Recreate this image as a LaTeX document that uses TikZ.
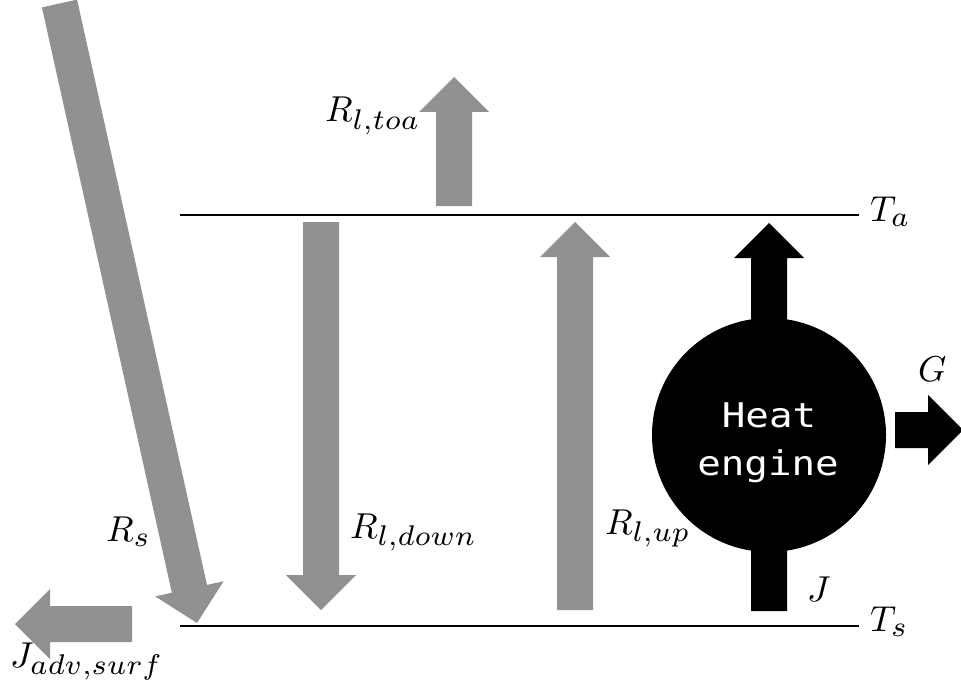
\RequirePackage{fix-cm}
\documentclass[tikz,border=0pt]{standalone}
\usepackage{fontspec}
\DeclareFontShape{OML}{cmm}{m}{it}{<-32> cmmi7 <32-> cmmi10}{}
\DeclareMathSizes{36}{36}{28.5}{20}
\newfontfamily\enginefont[FakeStretch=1.15]{DejaVu Sans Mono}
\usetikzlibrary{calc}
\definecolor{fluxgray}{RGB}{145,145,145}
% #1 fill style, #2 start coordinate, #3 tip coordinate
\newcommand\fatarrow[3]{%
  \coordinate (#2-hb) at ($(#3)!35pt!(#2)$);
  \fill[#1] ($(#2)!18pt!90:(#3)$) -- ($(#2-hb)!18pt!90:(#3)$)
    -- ($(#2-hb)!35pt!90:(#3)$) -- (#3)
    -- ($(#2-hb)!35pt!-90:(#3)$) -- ($(#2-hb)!18pt!-90:(#3)$)
    -- ($(#2)!18pt!-90:(#3)$) -- cycle;}
\tikzset{
  fluxlabel/.style={inner sep=0pt, anchor=base west, font=\fontsize{36}{42}\selectfont},
  enginetext/.style={inner sep=0pt, anchor=base, text=white, font=\enginefont\fontsize{34}{40}\selectfont},
  level/.style={line width=2.6pt, black},
}
\begin{document}
\begin{tikzpicture}[x=1pt,y=-1pt]
\useasboundingbox (0,0) rectangle (961,698);
\clip (0,0) rectangle (961,698);
% coordinates
\coordinate (rs-s) at (59.5,3.5);   \coordinate (rs-t) at (197,623);
\coordinate (jadv-s) at (132,624);  \coordinate (jadv-t) at (15,624);
\coordinate (toa-s) at (454,206);   \coordinate (toa-t) at (454,77);
\coordinate (down-s) at (321,222);  \coordinate (down-t) at (321,610);
\coordinate (up-s) at (575,610);    \coordinate (up-t) at (575,222);
\coordinate (he-s) at (769,435);    \coordinate (he-t) at (769,223);
\coordinate (j-s) at (769,611);     \coordinate (j-t) at (769,440);
\coordinate (g-s) at (895,430);     \coordinate (g-t) at (963,430);
\coordinate (ta-l) at (180,215);    \coordinate (ta-r) at (859,215);
\coordinate (ts-l) at (180,626);    \coordinate (ts-r) at (859,626);
% gray fluxes
\fatarrow{fluxgray}{rs-s}{rs-t}
\fatarrow{fluxgray}{jadv-s}{jadv-t}
\fatarrow{fluxgray}{toa-s}{toa-t}
\fatarrow{fluxgray}{down-s}{down-t}
\fatarrow{fluxgray}{up-s}{up-t}
% levels
\draw[level] (ta-l) -- (ta-r);
\draw[level] (ts-l) -- (ts-r);
% heat engine
\fatarrow{black}{he-s}{he-t}
\fatarrow{black}{j-s}{j-t}
\fatarrow{black}{g-s}{g-t}
\node[circle, fill=black, minimum size=234pt, inner sep=0pt] (engine) at (769,435) {};
\node[enginetext] (heat) at (769,427) {Heat};
\node[enginetext] (engword) at (768,475) {engine};
% labels
\node[fluxlabel] (lrs) at (106,541) {$R_s$};
\node[fluxlabel] (ljadv) at (10,667) {$J_{adv,surf}$};
\node[fluxlabel] (ltoa) at (325,122) {$R_{l,toa}$};
\node[fluxlabel] (ldown) at (350,538) {$R_{l,down}$};
\node[fluxlabel] (lup) at (605,534) {$R_{l,up}$};
\node[fluxlabel] (lta) at (870,221) {$T_a$};
\node[fluxlabel] (lts) at (870,631) {$T_s$};
\node[fluxlabel] (lg) at (918,381) {$G$};
\node[fluxlabel] (lj) at (807,601) {$J$};
\end{tikzpicture}
\end{document}
